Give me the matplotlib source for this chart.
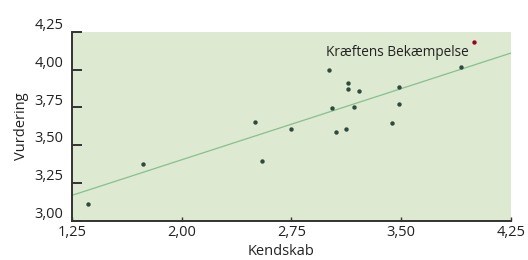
import matplotlib
matplotlib.use("Agg")
import matplotlib.pyplot as plt
from matplotlib.transforms import ScaledTranslation

plt.rcParams['font.family'] = ['Open Sans', 'DejaVu Sans']

# data
kendskab = [1.36, 1.735, 2.50, 2.55, 2.745, 3.005, 3.025, 3.055, 3.125,
            3.14, 3.14, 3.18, 3.21, 3.435, 3.485, 3.485, 3.91]
vurdering = [3.11, 3.375, 3.655, 3.395, 3.61, 4.00, 3.745, 3.59, 3.61,
             3.915, 3.87, 3.75, 3.86, 3.65, 3.885, 3.77, 4.02]
highlight_x = [4.00]
highlight_y = [4.185]
highlight_label = "Kræftens Bekæmpelse"
fit_x = [1.25, 4.25]
fit_y = [3.168, 4.11]

x_ticks = [1.25, 2.00, 2.75, 3.50, 4.25]
y_ticks = [3.00, 3.25, 3.50, 3.75, 4.00, 4.25]

def komma(v):
    return f"{v:.2f}".replace(".", ",")

fig = plt.figure(figsize=(5.28, 2.60), dpi=100)
ax = fig.add_axes([0.1364, 0.1512, 0.8308, 0.7257])
ax.set_facecolor("#dde9d0")

ax.plot(fit_x, fit_y, color="#86c08f", lw=0.9, zorder=2)
ax.scatter(kendskab, vurdering, s=10, color="#2f4a3a", zorder=3, linewidths=0)
ax.scatter(highlight_x, highlight_y, s=10, color="#a3001e", zorder=3, linewidths=0)
ax.annotate(highlight_label, (highlight_x[0], highlight_y[0]), xytext=(-4, -2),
            textcoords="offset points", ha="right", va="top", fontsize=9.8,
            color="#222222")

ax.set_xlim(1.25, 4.25)
ax.set_ylim(3.00, 4.25)
ax.set_xticks(x_ticks)
ax.set_xticklabels([komma(v) for v in x_ticks])
ax.set_yticks(y_ticks)
ax.set_yticklabels([komma(v) for v in y_ticks])

for s in ["top", "right"]:
    ax.spines[s].set_visible(False)
for s in ["left", "bottom"]:
    ax.spines[s].set_color("#333333")
    ax.spines[s].set_linewidth(1.4)

ax.tick_params(axis="y", direction="in", length=7, width=1.4, color="#333333",
               labelsize=10.5, pad=6, labelcolor="#222222")
ax.tick_params(axis="x", direction="in", length=3, width=1.0, color="#333333",
               labelsize=10.5, pad=3, labelcolor="#222222")

# y-tick labels sit a bit above their ticks
off = ScaledTranslation(0, 6 / 72, fig.dpi_scale_trans)
for lab in ax.get_yticklabels():
    lab.set_transform(lab.get_transform() + off)

ax.set_xlabel("Kendskab", fontsize=10.5, color="#222222")
ax.xaxis.set_label_coords(0.476, -0.125)
ax.set_ylabel("Vurdering", fontsize=10.5, color="#222222", labelpad=4)

fig.savefig("out.png", dpi=100)
